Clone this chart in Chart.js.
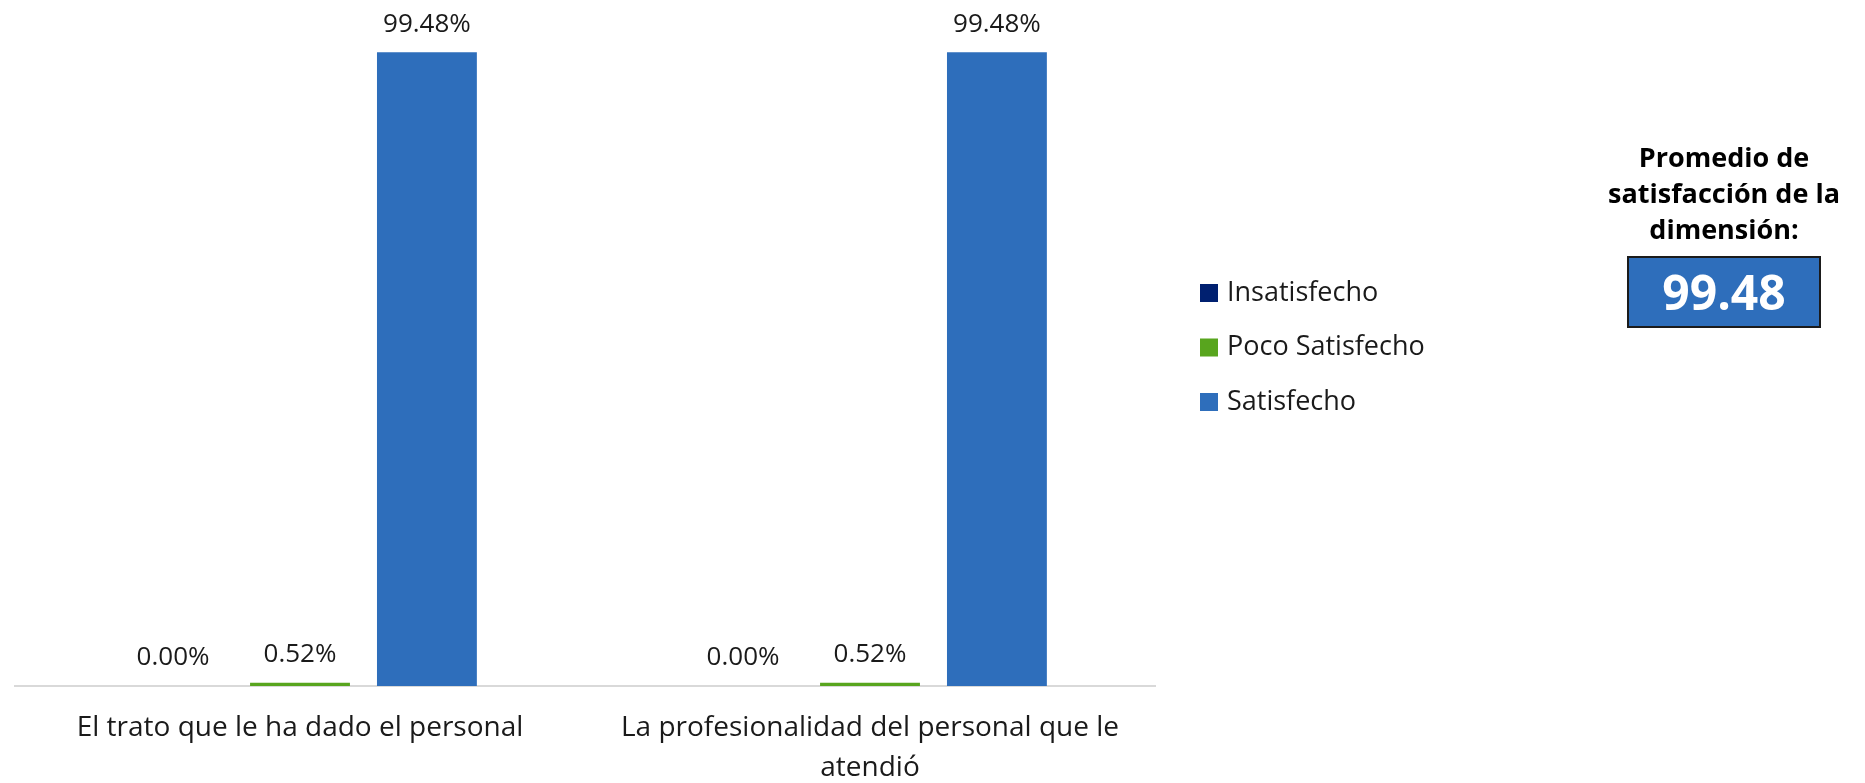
<!DOCTYPE html>
<html lang="es">
<head>
<meta charset="utf-8">
<title>Satisfacción con el personal</title>
<script src="https://cdn.jsdelivr.net/npm/chart.js@4.4.1/dist/chart.umd.min.js"></script>
<style>
    html, body { margin: 0; padding: 0; background: #fff; }
    #wrap { position: relative; width: 1865px; height: 783px; }
    #promedio {
        position: absolute;
        left: 1584px;
        top: 139px;
        width: 280px;
        text-align: center;
        font-family: "Open Sans", "Noto Sans", sans-serif;
        font-weight: 700;
        font-size: 27px;
        line-height: 36px;
        color: #000;
    }
    #promedio .valor {
        margin: 9px auto 0;
        width: 190px;
        height: 68px;
        line-height: 68px;
        background: #2E6EBB;
        border: 2px solid #1b1b1b;
        color: #fff;
        font-size: 48px;
    }
</style>
</head>
<body>
<div id="wrap">
    <canvas id="chart"></canvas>
    <div id="promedio">
        <div>Promedio de<br>satisfacción de la<br>dimensión:</div>
        <div class="valor" id="promedioValor"></div>
    </div>
</div>
<script>
// Categories (x axis), one entry per question; inner arrays are label lines
const categories = [
    ['El trato que le ha dado el personal'],
    ['La profesionalidad del personal que le', 'atendió']
];

// Percentages per answer level
const insatisfecho = [0.00, 0.00];
const pocoSatisfecho = [0.52, 0.52];
const satisfecho = [99.48, 99.48];

// Average satisfaction for the dimension
const promedioDimension = 99.48;

const FONT = '"Open Sans", "Noto Sans", sans-serif';

/**
 * Value labels above each bar
 */
const barValueLabels = {
    id: 'barValueLabels',
    afterDatasetsDraw(chart) {
        const ctx = chart.ctx;
        ctx.save();
        ctx.font = '26px ' + FONT;
        ctx.fillStyle = '#1a1a1a';
        ctx.textAlign = 'center';
        ctx.textBaseline = 'middle';
        chart.data.datasets.forEach((dataset, i) => {
            const meta = chart.getDatasetMeta(i);
            meta.data.forEach((bar, j) => {
                const value = dataset.data[j];
                ctx.fillText(value.toFixed(2) + '%', bar.x, bar.y - 28);
            });
        });
        ctx.restore();
    }
};

/**
 * Legend drawn to the right of the plot
 */
const sideLegend = {
    id: 'sideLegend',
    afterDraw(chart, args, opts) {
        const ctx = chart.ctx;
        ctx.save();
        ctx.font = opts.fontSize + 'px ' + FONT;
        ctx.textBaseline = 'middle';
        ctx.textAlign = 'left';
        chart.data.datasets.forEach((dataset, i) => {
            const y = opts.top + i * opts.rowGap;
            ctx.fillStyle = dataset.backgroundColor;
            ctx.fillRect(opts.left, y - opts.box / 2, opts.box, opts.box);
            ctx.fillStyle = '#1a1a1a';
            ctx.fillText(dataset.label, opts.left + opts.box + 9, y);
        });
        ctx.restore();
    }
};

document.getElementById('promedioValor').textContent = promedioDimension.toFixed(2);

new Chart(document.getElementById('chart'), {
    type: 'bar',
    data: {
        labels: categories,
        datasets: [
            { label: 'Insatisfecho', data: insatisfecho, backgroundColor: '#002070' },
            { label: 'Poco Satisfecho', data: pocoSatisfecho, backgroundColor: '#58A51E' },
            { label: 'Satisfecho', data: satisfecho, backgroundColor: '#2E6EBB' }
        ]
    },
    options: {
        responsive: true,
        maintainAspectRatio: false,
        animation: false,
        categoryPercentage: 0.668,
        barPercentage: 0.787,
        layout: {
            padding: { left: 15, right: 710, top: 49, bottom: 0 }
        },
        plugins: {
            legend: { display: false },
            tooltip: { enabled: false },
            sideLegend: { left: 1200, top: 293, rowGap: 54.5, box: 18, fontSize: 27 }
        },
        scales: {
            x: {
                grid: { display: false },
                border: { display: true, color: '#D9D9D9', width: 2 },
                ticks: {
                    color: '#1a1a1a',
                    padding: 14,
                    font: { family: FONT, size: 28, lineHeight: 40 / 28 }
                },
                afterFit(scale) {
                    scale.height = 97;
                }
            },
            y: {
                display: false,
                min: 0,
                max: 100
            }
        }
    },
    plugins: [barValueLabels, sideLegend]
});
</script>
</body>
</html>
